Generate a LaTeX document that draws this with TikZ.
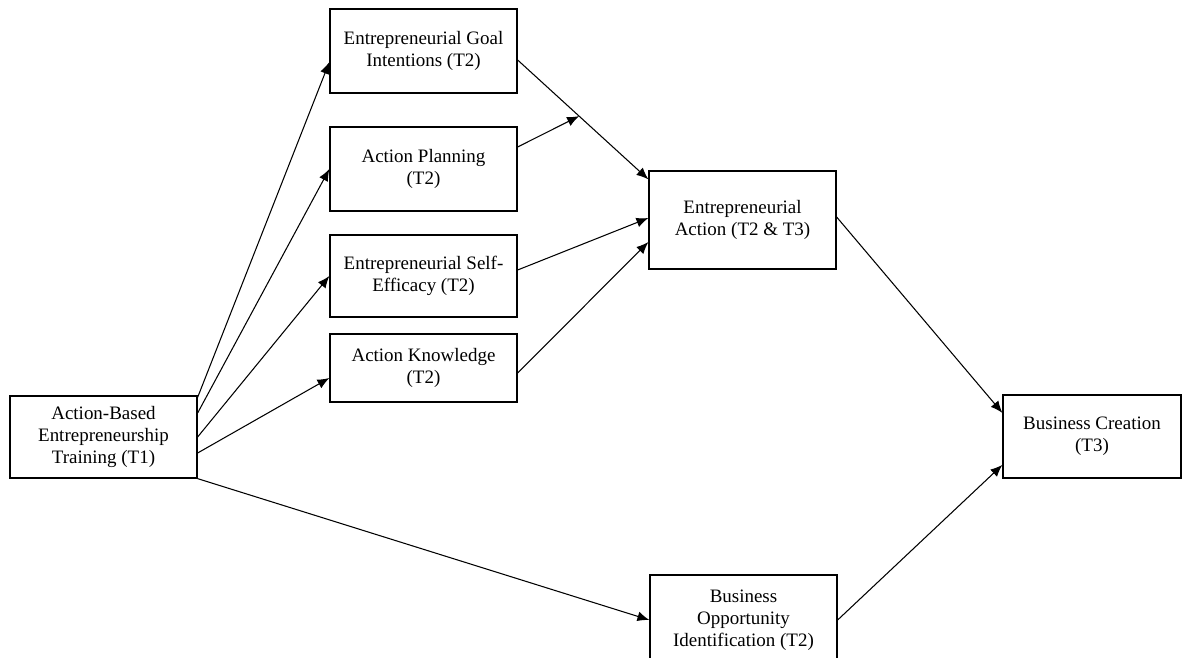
\documentclass[tikz,border=0pt]{standalone}
\usepackage{fontspec}
\setmainfont{Liberation Serif}
\usetikzlibrary{arrows.meta,calc}
\tikzset{
	construct/.style={draw=black, line width=0.9pt, fill=white, align=center,
		inner sep=0pt, minimum width=4.675cm,
		font=\fontsize{13.5}{15.6}\selectfont},
	link/.style={-{Latex[length=8.5pt,width=7pt]}, line width=0.75pt}
}
\begin{document}
\begin{tikzpicture}
	\useasboundingbox (0,0) rectangle (29.6,16.425);
	% Konstrukte
	\node[construct, minimum height=2.05cm] (train) at (2.5875,5.5)
		{Action-Based\\Entrepreneurship\\Training (T1)};
	\node[construct, minimum height=2.1cm] (goal) at (10.5875,15.15)
		{Entrepreneurial Goal\\Intentions (T2)};
	\node[construct, minimum height=2.1cm] (plan) at (10.5875,12.2)
		{Action Planning\\(T2)};
	\node[construct, minimum height=2.05cm] (self) at (10.5875,9.525)
		{Entrepreneurial Self-\\Efficacy (T2)};
	\node[construct, minimum height=1.7cm] (know) at (10.5875,7.225)
		{Action Knowledge\\(T2)};
	\node[construct, minimum height=2.45cm] (act) at (18.5625,10.925)
		{Entrepreneurial\\Action (T2 \& T3)};
	\node[construct, minimum width=4.45cm, minimum height=2.075cm] (crea)
		at (27.3,5.5125) {Business Creation\\(T3)};
	\node[construct, minimum height=2.25cm] (opp) at (18.5875,0.925)
		{Business\\Opportunity\\Identification (T2)};

	% Pfade vom Training
	\draw[link] ([yshift=-0.05cm]train.north east) -- ([yshift=-0.275cm]goal.west);
	\draw[link] ([yshift=0.6cm]train.east) -- (plan.west);
	\draw[link] (train.east) -- (self.west);
	\draw[link] ([yshift=-0.4cm]train.east) -- ([yshift=-0.25cm]know.west);
	\draw[link] (train.south east) -- (opp.west);

	% Pfade zur Handlung
	\coordinate (gstart) at ([yshift=-0.225cm]goal.east);
	\coordinate (aend) at ([yshift=-0.225cm]act.north west);
	\coordinate (mod) at ($(gstart)!0.47!(aend)$);
	\draw[link] (gstart) -- (aend);
	\draw[link] ([yshift=0.55cm]plan.east) -- (mod);
	\draw[link] ([yshift=0.15cm]self.east) -- ([yshift=0.05cm]act.west);
	\draw[link] ([yshift=-0.125cm]know.east) -- ([yshift=-0.55cm]act.west);

	% Pfade zur Gruendung
	\draw[link] ([yshift=0.075cm]act.east) -- ([yshift=0.59cm]crea.west);
	\draw[link] (opp.east) -- ([yshift=-0.71cm]crea.west);
\end{tikzpicture}
\end{document}
